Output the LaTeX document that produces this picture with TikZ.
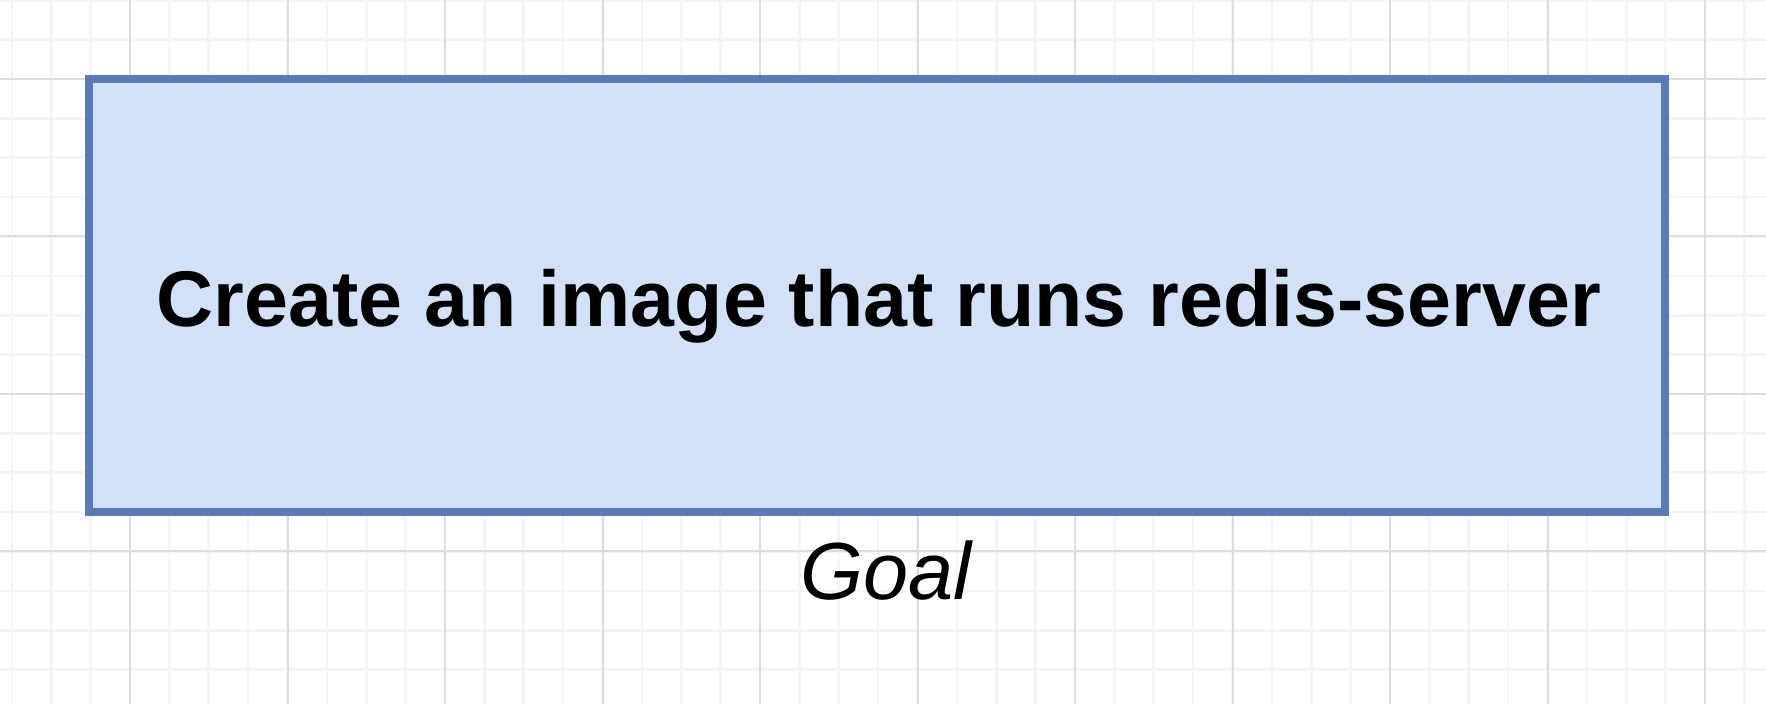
\documentclass[tikz,border=0pt]{standalone}
\usepackage{fontspec}
\setmainfont{Liberation Sans}
\definecolor{boxfill}{RGB}{210,225,248}
\definecolor{boxline}{RGB}{92,123,180}
\definecolor{gridminor}{RGB}{245,245,245}
\definecolor{gridmajor}{RGB}{220,220,220}
\tikzset{
  minorline/.style={gridminor, line width=1.3pt},
  majorline/.style={gridmajor, line width=1pt},
  goalbox/.style={draw=boxline, fill=boxfill, line width=3.75pt, rectangle, inner sep=0pt},
  boxtext/.style={font=\fontsize{39.5}{46}\selectfont\bfseries, inner sep=0pt},
  captiontext/.style={font=\fontsize{40.5}{46}\selectfont\itshape, inner sep=0pt}
}
\begin{document}
\begin{tikzpicture}[x=0.5pt, y=-0.5pt]
\useasboundingbox (0,0) rectangle (1766,704);
\fill[white] (0,0) rectangle (1766,704);
% grid
\foreach \i in {0,...,44} {
  \draw[minorline] ({11.875+39.375*\i},0) -- ({11.875+39.375*\i},704);
}
\foreach \j in {0,...,18} {
  \draw[minorline] (0,{0.25+39.375*\j}) -- (1766,{0.25+39.375*\j});
}
\foreach \i in {0,...,11} {
  \draw[majorline] ({130+157.5*(\i-1)},0) -- ({130+157.5*(\i-1)},704);
}
\foreach \j in {0,...,4} {
  \draw[majorline] (0,{79+157.5*\j}) -- (1766,{79+157.5*\j});
}
% box
\node[goalbox, minimum width=788pt, minimum height=216.5pt] (goal) at (877,295.5) {};
\node[boxtext, anchor=base] (goaltext) at (879,327) {Create an image that runs redis-server};
\node[captiontext, anchor=base] (caption) at (886,600) {Goal};
\end{tikzpicture}
\end{document}
